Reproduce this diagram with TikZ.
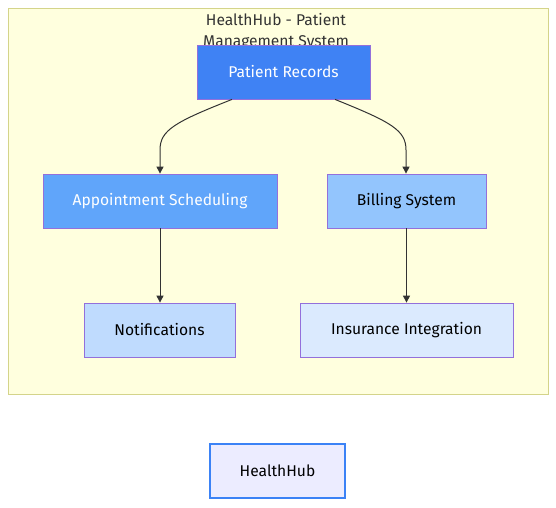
\documentclass[tikz,border=0pt]{standalone}
\usepackage{fontspec}
\setmainfont{Fira Sans}
\usetikzlibrary{arrows.meta}
\definecolor{clfill}{HTML}{FFFFDE}
\definecolor{clline}{HTML}{D4D48A}
\definecolor{nstroke}{HTML}{9370DB}
\definecolor{edgec}{HTML}{333333}
\tikzset{
  box/.style={draw=nstroke, line width=0.8pt, minimum height=54pt, inner sep=0pt, font=\fontsize{15.6}{18}\selectfont},
  link/.style={draw=edgec, line width=1pt, -{Triangle[length=7pt,width=7pt]}},
}
\begin{document}
\begin{tikzpicture}[x=1pt,y=-1pt]
\useasboundingbox (0,0) rectangle (556,507);
\draw[clline, fill=clfill, line width=1pt] (8,8) rectangle (548,394);
\node[font=\fontsize{15.6}{18}\selectfont, text=edgec, align=center] (title) at (276,20) {HealthHub - Patient};
\node[font=\fontsize{15.6}{18}\selectfont, text=edgec] (title2) at (276,43) {Management System};
\node[box, fill={rgb,255:red,63;green,130;blue,244}, text=white, minimum width=173pt] (pr) at (283.5,72) {Patient Records};
\node[box, fill={rgb,255:red,96;green,165;blue,250}, text=white, minimum width=234pt] (as) at (160,201) {Appointment Scheduling};
\node[box, fill={rgb,255:red,147;green,197;blue,253}, text=black, minimum width=159pt] (bs) at (406.5,201) {Billing System};
\node[box, fill={rgb,255:red,191;green,219;blue,254}, text=black, minimum width=151pt] (nt) at (159.5,330) {Notifications};
\node[box, fill={rgb,255:red,219;green,234;blue,254}, text=black, minimum width=213pt] (ii) at (406.5,330) {Insurance Integration};
\node[box, draw={rgb,255:red,59;green,130;blue,246}, line width=1.6pt, fill={rgb,255:red,236;green,236;blue,255}, text=black, minimum width=135pt] (hh) at (277.5,471) {HealthHub};
\draw[link] ([xshift=-51.5pt]pr.south) .. controls (175,122) and (160,130) .. (160,150) -- (as.north -| 160,0);
\draw[link] ([xshift=51.5pt]pr.south) .. controls (391,122) and (406,130) .. (406,150) -- (bs.north -| 406,0);
\draw[link] (as.south) -- (nt.north -| as.south);
\draw[link] (bs.south) -- (ii.north -| bs.south);
\end{tikzpicture}
\end{document}
